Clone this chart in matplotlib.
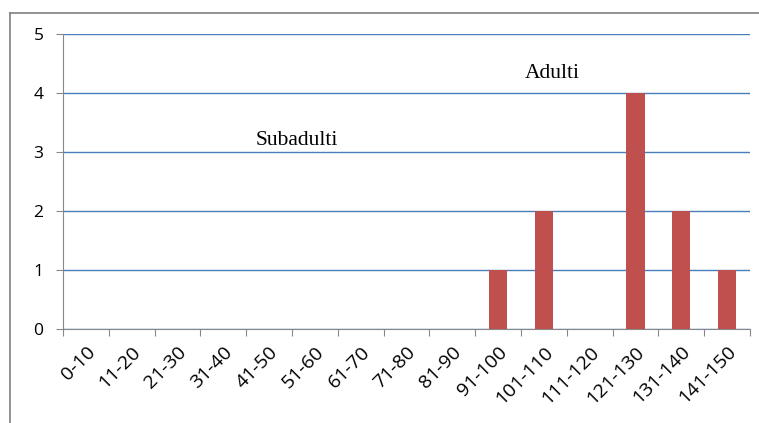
import matplotlib.pyplot as plt
from matplotlib.lines import Line2D

# data
categories = ["0-10", "11-20", "21-30", "31-40", "41-50", "51-60", "61-70", "71-80",
              "81-90", "91-100", "101-110", "111-120", "121-130", "131-140", "141-150"]
counts = [0, 0, 0, 0, 0, 0, 0, 0, 0, 1, 2, 0, 4, 2, 1]

fig = plt.figure(figsize=(7.59, 4.23), dpi=100)
W, H = 759, 423
ax = fig.add_axes([63 / W, 1 - 329 / H, (750 - 63) / W, (329 - 34) / H])

x = range(len(categories))
ax.bar(x, counts, width=0.4, color="#c0504d", zorder=3)

ax.set_xlim(-0.5, len(categories) - 0.5)
ax.set_ylim(0, 5)
ax.set_yticks(range(6))
ax.yaxis.grid(True, color="#4a7ebb", linewidth=1, zorder=0)

# tick marks on category boundaries, labels at centres
ax.set_xticks([i - 0.5 for i in range(len(categories) + 1)])
ax.set_xticklabels([])
ax.set_xticks(list(x), minor=True)
ax.set_xticklabels(categories, minor=True, rotation=45, ha="right",
                   rotation_mode="anchor", fontsize=14, family="Open Sans")
ax.tick_params(axis="x", which="major", length=5, color="#888888", direction="out")
ax.tick_params(axis="x", which="minor", length=0, pad=10)
ax.tick_params(axis="y", length=5, color="#888888", labelsize=12.5, pad=9)
for lbl in ax.get_yticklabels():
    lbl.set_family("Open Sans")

for side in ["top", "right"]:
    ax.spines[side].set_visible(False)
for side in ["left", "bottom"]:
    ax.spines[side].set_color("#888888")

fig.text(297 / W, 1 - 140 / H, "Subadulti", family="Liberation Serif", fontsize=15.5,
         ha="center", va="center")
fig.text(552 / W, 1 - 73 / H, "Adulti", family="Liberation Serif", fontsize=15.5,
         ha="center", va="center")

# outer frame
fig.add_artist(Line2D([10 / W, 1], [1 - 13 / H, 1 - 13 / H], color="#808080", linewidth=1.2))
fig.add_artist(Line2D([10 / W, 10 / W], [0, 1 - 13 / H], color="#808080", linewidth=1.2))

fig.savefig("out.png", dpi=100)
